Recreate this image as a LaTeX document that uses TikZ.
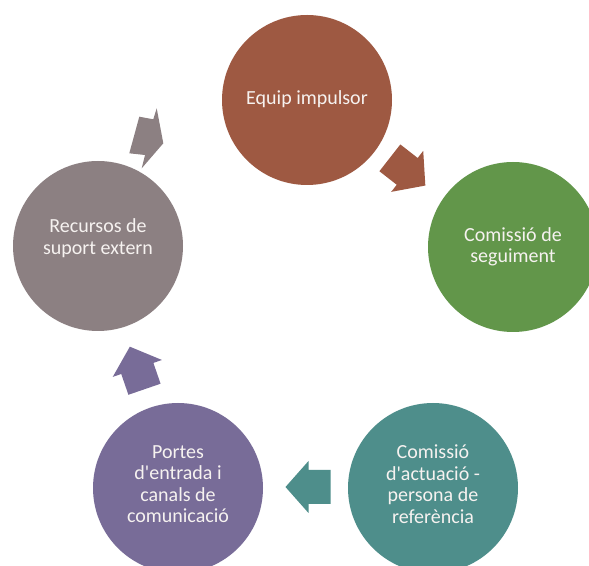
\documentclass[tikz,border=0pt]{standalone}
\usepackage{fontspec}
\setmainfont{Carlito}
\usetikzlibrary{calc}
\definecolor{cbrown}{HTML}{9E5942}
\definecolor{cgreen}{HTML}{62964A}
\definecolor{cteal}{HTML}{4E8E8B}
\definecolor{cpurple}{HTML}{786C98}
\definecolor{cgrey}{HTML}{8C8082}
\definecolor{ctext}{HTML}{F6F2F0}
\newcommand{\apo}{\textquotesingle}
\begin{document}
\begin{tikzpicture}[x=1pt,y=1pt,
  circ/.style={circle, minimum size=170pt, inner sep=0pt},
  lbl/.style={inner sep=0pt, text=ctext, align=center,
    font=\fontsize{20}{21.5}\selectfont}]
\fill[white] (0,0) rectangle (589,565);
\useasboundingbox (0,0) rectangle (589,565);
\begin{scope}
\clip (0,0) rectangle (589,565);
\node[circ, fill=cbrown]  (brown)  at (307,465) {};
\node[circ, fill=cgreen]  (green)  at (513,318) {};
\node[circ, fill=cteal]   (teal)   at (433,77)  {};
\node[circ, fill=cpurple] (purple) at (178,77)  {};
\node[circ, fill=cgrey]   (grey)   at (98,319)  {};
\end{scope}
\node[lbl] (brownT)  at ($(brown)+(0,1)$)  {Equip impulsor};
\node[lbl] (greenT)  at ($(green)+(0,0)$)  {Comissió de\\seguiment};
\node[lbl] (tealT)   at ($(teal)+(0,4)$)   {Comissió\\d\apo actuació -\\persona de\\referència};
\node[lbl] (purpleT) at ($(purple)+(0,4)$) {Portes\\d\apo entrada i\\canals de\\comunicació};
\node[lbl] (greyT)   at ($(grey)+(0,8)$)   {Recursos de\\suport extern};
% block arrows
\begin{scope}[shift={(408,393)}, rotate=-38]
  \fill[cbrown] (-23,-17) -- (-1,-17) -- (-1,-26) -- (22,0) -- (-1,26) -- (-1,17) -- (-23,17) -- cycle;
\end{scope}
\begin{scope}[shift={(307.5,78)}, rotate=180]
  \fill[cteal] (-23,-17) -- (-1,-17) -- (-1,-26) -- (22,0) -- (-1,26) -- (-1,17) -- (-23,17) -- cycle;
\end{scope}
\begin{scope}[shift={(137,197.5)}, rotate=109]
  \fill[cpurple] (-23,-17) -- (-1,-17) -- (-1,-26) -- (22,0) -- (-1,26) -- (-1,17) -- (-23,17) -- cycle;
\end{scope}
\fill[cgrey] (139.3,448.3) -- (153.3,445.7) -- (156.7,456.7) -- (163.3,421.7)
  -- (141.7,396.7) -- (145,410) -- (129.3,411.7) -- cycle;
\end{tikzpicture}
\end{document}
